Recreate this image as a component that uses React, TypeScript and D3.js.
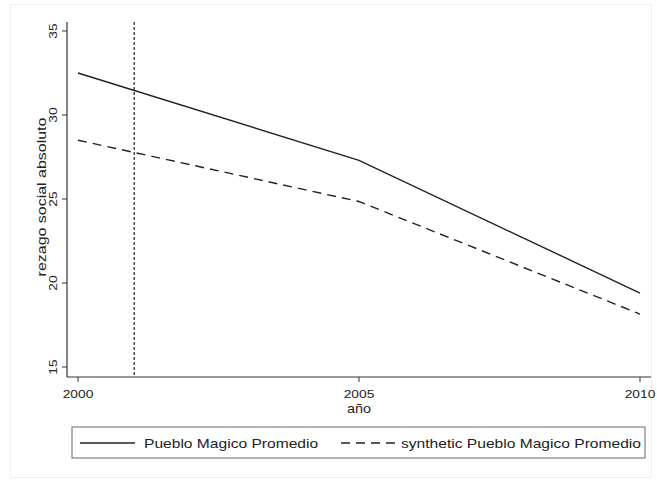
import * as d3 from "d3";

// data
const years = [2000, 2005, 2010];
const puebloMagico = [32.5, 27.3, 19.4];
const synthetic = [28.5, 24.85, 18.15];
const yTicks = [15, 20, 25, 30, 35];
const xTicks = [2000, 2005, 2010];
const treatmentYear = 2001;
const legendLabels = ["Pueblo Magico Promedio", "synthetic Pueblo Magico Promedio"];

export default function App() {
  const width = 657;
  const height = 480;
  const font = "'Liberation Sans', Arial, Helvetica, sans-serif";
  // the original text is a bit wider than Arial at the same height
  const stretch = 1.2;

  // plot region
  const left = 67;
  const right = 651;
  const top = 22;
  const bottom = 377;

  const xScale = d3.scaleLinear().domain([2000, 2010]).range([78, 640]);
  const yScale = d3.scaleLinear().domain([15, 35]).range([367, 31]);

  const line = d3
    .line<number>()
    .x((_, i) => xScale(years[i]))
    .y((d) => yScale(d));

  const tx = xScale(treatmentYear);

  return (
    <svg
      width={width}
      height={height}
      style={{ position: "absolute", left: 0, top: 0, background: "#fff" }}
    >
      {/* faint outer frame */}
      <rect x={10.5} y={4.5} width={641} height={473} fill="none" stroke="#eaf0f3" />

      {/* axes */}
      <line x1={left} x2={left} y1={top} y2={bottom} stroke="#333" strokeWidth={1.2} />
      <line x1={left} x2={right} y1={bottom} y2={bottom} stroke="#333" strokeWidth={1.2} />

      {yTicks.map((t) => (
        <g key={t} transform={`translate(0, ${yScale(t)})`}>
          <line x1={left - 5} x2={left} stroke="#333" />
          <text
            transform={`translate(57, 0) rotate(-90) scale(${stretch}, 1)`}
            textAnchor="middle"
            fontFamily={font}
            fontSize={11.5}
            fill="#222"
          >
            {t}
          </text>
        </g>
      ))}

      {xTicks.map((t) => (
        <g key={t} transform={`translate(${xScale(t)}, 0)`}>
          <line y1={bottom} y2={bottom + 5} stroke="#333" />
          <text
            transform={`translate(0, ${bottom + 21}) scale(${stretch}, 1)`}
            textAnchor="middle"
            fontFamily={font}
            fontSize={11.5}
            fill="#222"
          >
            {t}
          </text>
        </g>
      ))}

      {/* axis titles */}
      <text
        transform={`translate(${xScale(2005)}, 413) scale(${stretch}, 1)`}
        textAnchor="middle"
        fontFamily={font}
        fontSize={12}
        fill="#222"
      >
        año
      </text>
      <text
        transform={`translate(46, 197) rotate(-90) scale(${stretch}, 1)`}
        textAnchor="middle"
        fontFamily={font}
        fontSize={13.3}
        fill="#222"
      >
        rezago social absoluto
      </text>

      {/* treatment year marker */}
      <line x1={tx} x2={tx} y1={top} y2={bottom} stroke="#222" strokeWidth={1.2} strokeDasharray="3,2" />

      {/* series */}
      <path d={line(puebloMagico) ?? ""} fill="none" stroke="#222" strokeWidth={1.4} />
      <path
        d={line(synthetic) ?? ""}
        fill="none"
        stroke="#222"
        strokeWidth={1.4}
        strokeDasharray="9,6"
      />

      {/* legend */}
      <rect x={72} y={427} width={573} height={31} fill="#fff" stroke="#666" />
      <line x1={80} x2={135} y1={443} y2={443} stroke="#222" strokeWidth={1.4} />
      <text
        transform={`translate(144, 448) scale(${stretch}, 1)`}
        fontFamily={font}
        fontSize={13}
        fill="#222"
      >
        {legendLabels[0]}
      </text>
      <line x1={341} x2={396} y1={443} y2={443} stroke="#222" strokeWidth={1.4} strokeDasharray="9,6" />
      <text
        transform={`translate(401, 448) scale(${stretch}, 1)`}
        fontFamily={font}
        fontSize={13}
        fill="#222"
      >
        {legendLabels[1]}
      </text>
    </svg>
  );
}
